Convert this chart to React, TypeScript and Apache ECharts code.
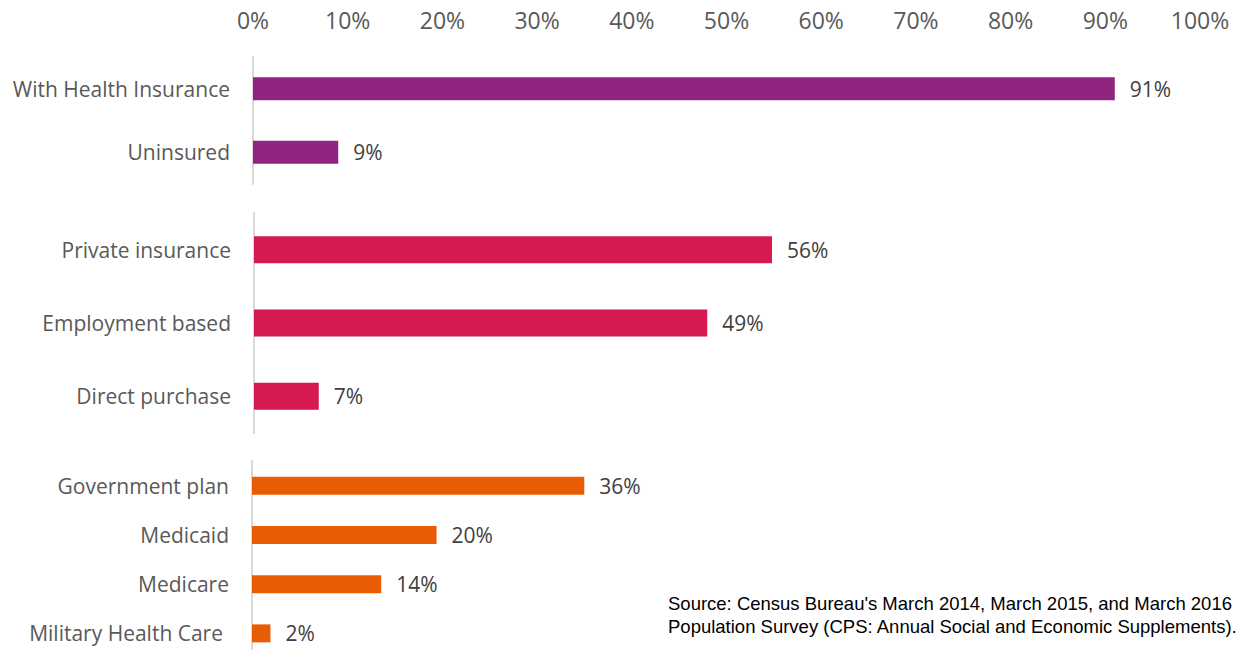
import React, { useEffect, useRef } from "react";
import * as echarts from "echarts";

const tickLabels = ["0%", "10%", "20%", "30%", "40%", "50%", "60%", "70%", "80%", "90%", "100%"];

const coverageCats = ["With Health Insurance", "Uninsured"];
const coverageVals = [91, 9];

const privateCats = ["Private insurance", "Employment based", "Direct purchase"];
const privateVals = [56, 49, 7];

const govCats = ["Government plan", "Medicaid", "Medicare", "Military Health Care"];
const govVals = [36, 20, 14, 2];

const sourceLines = [
  "Source: Census Bureau's March 2014, March 2015, and March 2016",
  "Population Survey (CPS: Annual Social and Economic Supplements).",
];

const FONT = "'Open Sans'";
const LABEL_COLOR = "#595959";
const VALUE_COLOR = "#404040";
const AXIS_COLOR = "#d9d9d9";

export default function App() {
  const ref = useRef<HTMLDivElement>(null);
  useEffect(() => {
    if (!ref.current) return;
    const chart = echarts.init(ref.current, null, { renderer: "svg" });

    const grids = [
      { left: 253, width: 947, top: 57, height: 127 },
      { left: 254, width: 925, top: 213, height: 220 },
      { left: 252, width: 923, top: 461, height: 197 },
    ];
    const groups = [
      { cats: coverageCats, vals: coverageVals, color: "#8f2480", bw: 23 },
      { cats: privateCats, vals: privateVals, color: "#d6194f", bw: 27 },
      { cats: govCats, vals: govVals, color: "#e85d04", bw: 18 },
    ];

    const xAxis = grids.map((_, i) => ({
      type: "value",
      gridIndex: i,
      min: 0,
      max: 100,
      interval: 10,
      position: "top",
      axisLine: { show: false },
      axisTick: { show: false },
      splitLine: { show: false },
      axisLabel: {
        show: i === 0,
        formatter: (v: number) => tickLabels[Math.round(v / 10)],
        color: LABEL_COLOR,
        fontFamily: FONT,
        fontSize: 23,
        margin: 26,
      },
    }));

    const yAxis = groups.map((g, i) => ({
      type: "category",
      gridIndex: i,
      inverse: true,
      data: g.cats.map((c) =>
        c === "Military Health Care"
          ? { value: c, textStyle: { padding: [0, 6, 0, 0] } }
          : c
      ),
      axisLine: { show: true, lineStyle: { color: AXIS_COLOR, width: 2 } },
      axisTick: { show: false },
      axisLabel: {
        color: LABEL_COLOR,
        fontFamily: FONT,
        fontSize: 21,
        margin: 23,
      },
    }));

    const series = groups.map((g, i) => ({
      type: "bar",
      xAxisIndex: i,
      yAxisIndex: i,
      data: g.vals,
      barWidth: g.bw,
      itemStyle: { color: g.color },
      label: {
        show: true,
        position: "right",
        distance: 15,
        formatter: (p: any) => p.value + "%",
        color: VALUE_COLOR,
        fontFamily: FONT,
        fontSize: 21,
      },
    }));

    chart.setOption({
      animation: false,
      grid: grids,
      xAxis,
      yAxis,
      series,
      graphic: sourceLines.map((t, i) => ({
        type: "text",
        left: 668,
        top: 594 + i * 23,
        style: {
          text: t,
          fill: "#000000",
          font: "18.5px 'Liberation Sans', Arial, sans-serif",
        },
      })),
    });
    return () => chart.dispose();
  }, []);

  return (
    <div style={{ position: "fixed", left: 0, top: 0, width: 1238, height: 650, overflow: "hidden", background: "#ffffff" }}>
      <div ref={ref} style={{ width: 1238, height: 660 }} />
    </div>
  );
}
